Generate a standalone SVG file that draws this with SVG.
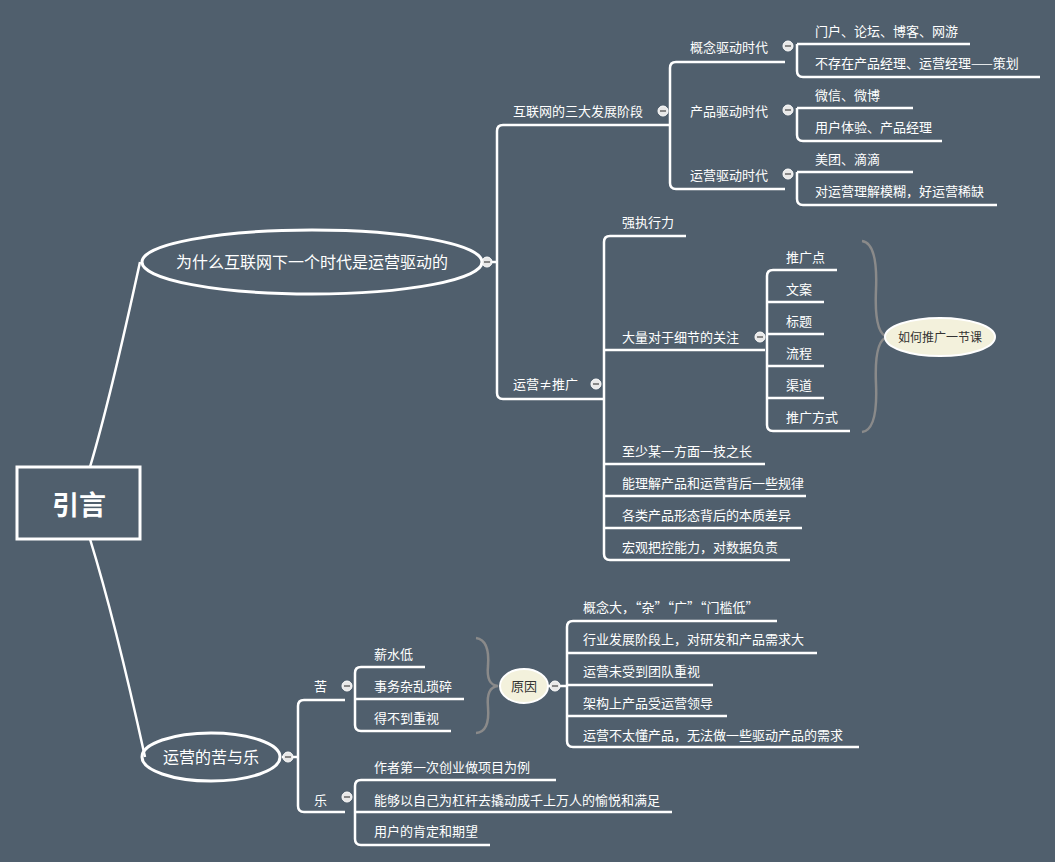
<svg xmlns="http://www.w3.org/2000/svg" width="1055" height="862" viewBox="0 0 1055 862">
<style>
.l{fill:none;stroke:#fff;stroke-width:2.5;stroke-linejoin:round}
.t{font-family:"Noto Sans CJK SC","Liberation Sans",sans-serif;font-size:13px;fill:#fff}
.b{fill:none;stroke:#8a8a8a;stroke-width:2.5}
</style>
<defs>
<g id="c"><circle r="5" fill="#e8e8e8" stroke="#fff"/><line x1="-3" y1="0" x2="3" y2="0" stroke="#666" stroke-width="1.5"/></g>
</defs>
<rect width="1055" height="862" fill="#505f6d"/>
<g id="connectors">
<path class="l" d="M90,467 Q110,400 140,262 M90,539 Q115,620 145,757"/>
<path class="l" d="M482,262 L497,262 M663,125 L503,125 Q497,125 497,131 L497,393 Q497,399 503,399 L598,399"/>
<path class="l" d="M670,125 L663,125 M676,62 Q670,62 670,68 L670,183 Q670,189 676,189 L785,189 M676,62 L785,62"/>
<path class="l" d="M797,44 L970,44 M797,44 L797,71 Q797,77 803,77 L1040,77"/>
<path class="l" d="M797,108 L913,108 M797,108 L797,135 Q797,141 803,141 L942,141"/>
<path class="l" d="M797,172 L913,172 M797,172 L797,199 Q797,205 803,205 L997,205"/>
<path class="l" d="M598,399 L604,399 M686,236 L610,236 Q604,236 604,242 L604,554 Q604,560 610,560 L790,560 M604,350 L765,350 M604,464 L765,464 M604,496 L806,496 M604,528 L802,528"/>
<path class="l" d="M837,270 L773,270 Q767,270 767,276 L767,425 Q767,431 773,431 L850,431 M767,302 L824,302 M767,334 L824,334 M767,366 L824,366 M767,398 L824,398"/>
<path class="l" d="M282,757 L298,757 M345,700 L304,700 Q298,700 298,706 L298,806 Q298,812 304,812 L345,812"/>
<path class="l" d="M425,667 L361,667 Q355,667 355,673 L355,725 Q355,731 361,731 L451,731 M355,699 L464,699"/>
<path class="l" d="M548,686 L567,686 M777,621 L573,621 Q567,621 567,627 L567,741 Q567,747 573,747 L859,747 M567,653 L817,653 M567,685 L713,685 M567,716 L727,716"/>
<path class="l" d="M556,780 L361,780 Q355,780 355,786 L355,839 Q355,845 361,845 L490,845 M355,812 L672,812"/>
</g>
<path class="b" d="M862,241 Q878,243 876,290 Q874,335 888,337 Q874,339 876,384 Q878,430 862,432"/>
<path class="b" d="M476,638 Q490,640 488,666 Q486,685 498,686 Q486,687 488,707 Q490,732 476,733"/>
<g id="root"><rect x="17" y="467" width="123" height="72" fill="none" stroke="#fff" stroke-width="3"/><text x="79" y="515" text-anchor="middle" style="font-family:'Noto Sans CJK SC',sans-serif;font-size:27px;font-weight:bold;fill:#fff">引言</text></g>
<g id="n1"><ellipse cx="312" cy="262" rx="170" ry="32" fill="none" stroke="#fff" stroke-width="3"/><text x="312" y="268" text-anchor="middle" class="t" style="font-size:16px">为什么互联网下一个时代是运营驱动的</text></g>
<g id="n2"><ellipse cx="211" cy="757" rx="69" ry="24" fill="none" stroke="#fff" stroke-width="3"/><text x="211" y="763" text-anchor="middle" class="t" style="font-size:16px">运营的苦与乐</text></g>
<g id="n3"><ellipse cx="940" cy="337" rx="55" ry="19" fill="#f3f1dc" stroke="#fff" stroke-width="2"/><text x="940" y="342" text-anchor="middle" class="t" style="fill:#333;font-size:12px">如何推广一节课</text></g>
<g id="n4"><ellipse cx="524" cy="686" rx="24" ry="17" fill="#f3f1dc" stroke="#fff" stroke-width="2"/><text x="524" y="691" text-anchor="middle" class="t" style="fill:#333">原因</text></g>
<g id="labels">
<text class="t" x="513" y="116">互联网的三大发展阶段</text>
<text class="t" x="690" y="52">概念驱动时代</text>
<text class="t" x="815" y="36">门户、论坛、博客、网游</text>
<text class="t" x="815" y="68">不存在产品经理、运营经理——策划</text>
<text class="t" x="690" y="116">产品驱动时代</text>
<text class="t" x="815" y="100">微信、微博</text>
<text class="t" x="815" y="132">用户体验、产品经理</text>
<text class="t" x="690" y="180">运营驱动时代</text>
<text class="t" x="815" y="164">美团、滴滴</text>
<text class="t" x="815" y="196">对运营理解模糊，好运营稀缺</text>
<text class="t" x="513" y="389">运营≠推广</text>
<text class="t" x="622" y="227">强执行力</text>
<text class="t" x="622" y="342">大量对于细节的关注</text>
<text class="t" x="786" y="262">推广点</text>
<text class="t" x="786" y="294">文案</text>
<text class="t" x="786" y="326">标题</text>
<text class="t" x="786" y="358">流程</text>
<text class="t" x="786" y="390">渠道</text>
<text class="t" x="786" y="422">推广方式</text>
<text class="t" x="622" y="456">至少某一方面一技之长</text>
<text class="t" x="622" y="488">能理解产品和运营背后一些规律</text>
<text class="t" x="622" y="520">各类产品形态背后的本质差异</text>
<text class="t" x="622" y="552">宏观把控能力，对数据负责</text>
<text class="t" x="314" y="691">苦</text>
<text class="t" x="374" y="659">薪水低</text>
<text class="t" x="374" y="691">事务杂乱琐碎</text>
<text class="t" x="374" y="723">得不到重视</text>
<text class="t" x="583" y="612">概念大，“杂”“广”“门槛低”</text>
<text class="t" x="583" y="644">行业发展阶段上，对研发和产品需求大</text>
<text class="t" x="583" y="676">运营未受到团队重视</text>
<text class="t" x="583" y="708">架构上产品受运营领导</text>
<text class="t" x="583" y="740">运营不太懂产品，无法做一些驱动产品的需求</text>
<text class="t" x="314" y="805">乐</text>
<text class="t" x="374" y="772">作者第一次创业做项目为例</text>
<text class="t" x="374" y="805">能够以自己为杠杆去撬动成千上万人的愉悦和满足</text>
<text class="t" x="374" y="836">用户的肯定和期望</text>
</g>
<g id="collapse">
<use href="#c" x="487" y="262"/><use href="#c" x="663" y="111"/><use href="#c" x="788" y="46"/><use href="#c" x="788" y="110"/><use href="#c" x="788" y="174"/><use href="#c" x="596" y="384"/><use href="#c" x="760" y="337"/><use href="#c" x="288" y="757"/><use href="#c" x="347" y="686"/><use href="#c" x="347" y="797"/><use href="#c" x="555" y="686"/>
</g>
</svg>
